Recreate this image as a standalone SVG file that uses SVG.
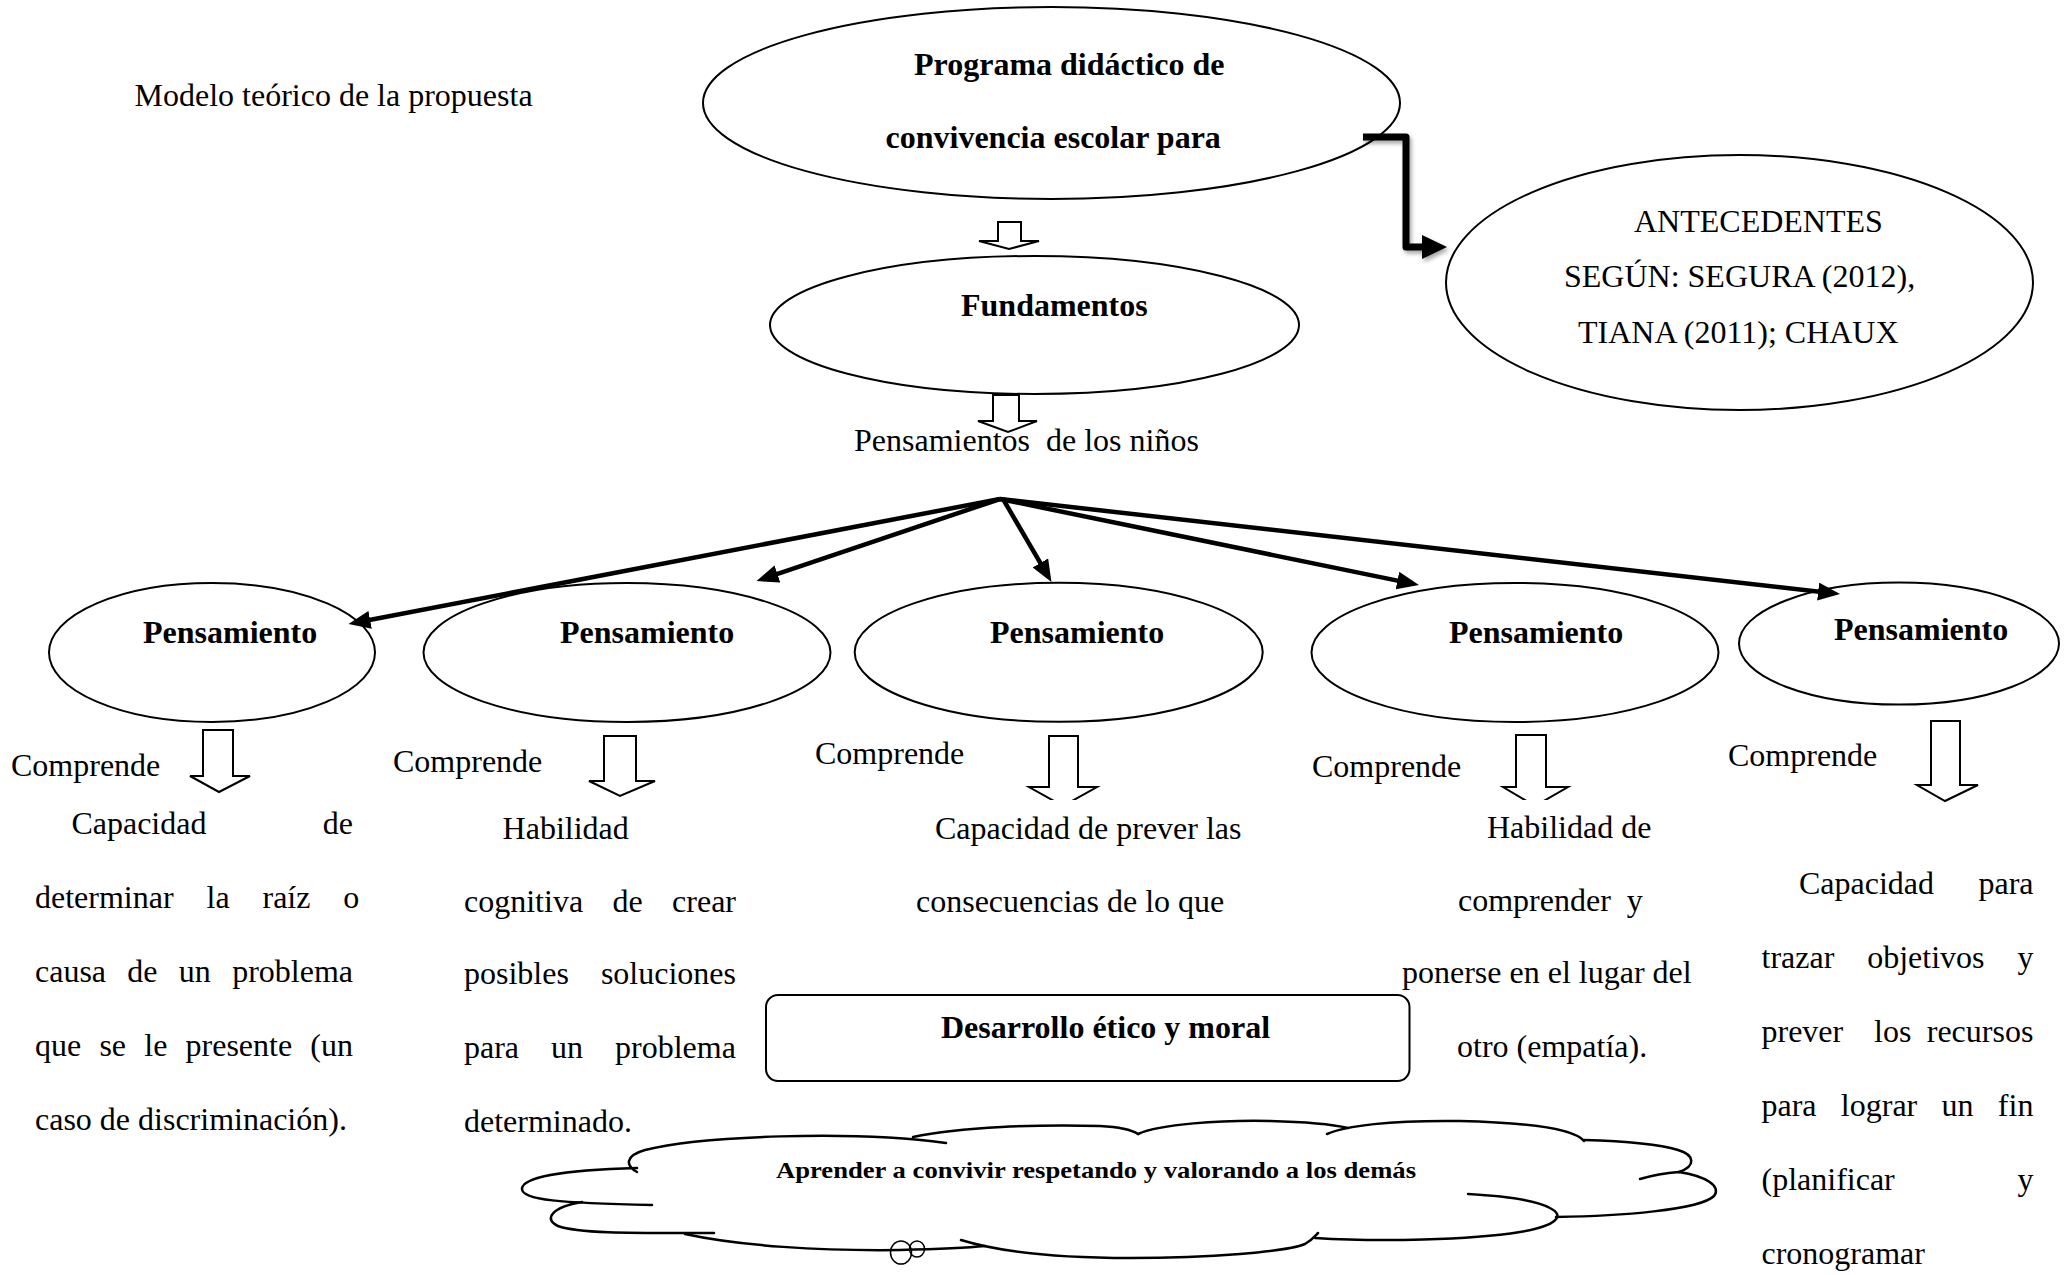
<svg xmlns="http://www.w3.org/2000/svg" width="2071" height="1275" viewBox="0 0 2071 1275">
<style>
.t{font-family:"Liberation Serif","Times New Roman",serif;font-size:32px;fill:#000}
.b{font-weight:bold}
.node{fill:none;stroke:#000;stroke-width:2}
.conn{stroke:#000;stroke-width:4.5;fill:none}
.blk{fill:#fff;stroke:#000;stroke-width:2}
.cl{fill:none;stroke:#000;stroke-width:2.5;stroke-linecap:round}
</style>
<defs>
<marker id="ah" markerUnits="userSpaceOnUse" markerWidth="24" markerHeight="18" refX="10" refY="9" orient="auto">
<path d="M0,0 L22,9 L0,18 z" fill="#000"/>
</marker>
<filter id="sh" x="-20%" y="-20%" width="140%" height="140%">
<feDropShadow dx="2" dy="3" stdDeviation="2" flood-color="#000" flood-opacity="0.35"/>
</filter>
<clipPath id="cut"><rect x="0" y="700" width="2071" height="100"/></clipPath>
</defs>
<rect width="2071" height="1275" fill="#fff"/>

<text class="t" x="134.5" y="106">Modelo teórico de la propuesta</text>

<g id="node-programa">
<ellipse class="node" cx="1051.5" cy="103" rx="348.5" ry="96"/>
<text class="t b" x="914" y="75">Programa didáctico de</text>
<text class="t b" x="885.5" y="148">convivencia escolar para</text>
</g>
<g id="node-antecedentes">
<ellipse class="node" cx="1739.5" cy="282.5" rx="293.5" ry="127.5"/>
<text class="t" x="1634" y="232">ANTECEDENTES</text>
<text class="t" x="1564" y="287">SEGÚN: SEGURA (2012),</text>
<text class="t" x="1578" y="342.5">TIANA (2011); CHAUX</text>
</g>
<g id="node-fundamentos">
<ellipse class="node" cx="1034.5" cy="325" rx="264.5" ry="69"/>
<text class="t b" x="961" y="316">Fundamentos</text>
</g>
<g id="node-pensamientos-ninos">
<text class="t" x="854" y="451" xml:space="preserve">Pensamientos  de los niños</text>
</g>

<g id="node-p1">
<ellipse class="node" cx="212" cy="652.5" rx="163" ry="69.5"/>
<text class="t b" x="143" y="643">Pensamiento</text>
</g>
<g id="node-p2">
<ellipse class="node" cx="627" cy="652.5" rx="203.5" ry="69.5"/>
<text class="t b" x="560" y="643">Pensamiento</text>
</g>
<g id="node-p3">
<ellipse class="node" cx="1058.7" cy="652.3" rx="204" ry="69.5"/>
<text class="t b" x="990" y="643">Pensamiento</text>
</g>
<g id="node-p4">
<ellipse class="node" cx="1515" cy="652.5" rx="203.5" ry="69.5"/>
<text class="t b" x="1449" y="643">Pensamiento</text>
</g>
<g id="node-p5">
<ellipse class="node" cx="1899" cy="643.6" rx="160" ry="61"/>
<text class="t b" x="1834" y="640">Pensamiento</text>
</g>

<g id="labels-comprende">
<text class="t" x="11" y="776">Comprende</text>
<text class="t" x="393" y="772">Comprende</text>
<text class="t" x="815" y="764">Comprende</text>
<text class="t" x="1312" y="777">Comprende</text>
<text class="t" x="1728" y="766">Comprende</text>
</g>

<g id="node-col1">
<text class="t" x="71.4" y="834">Capacidad</text>
<text class="t" x="353" y="834" text-anchor="end">de</text>
<text class="t" x="35" y="908" style="word-spacing:24.9px">determinar la raíz o</text>
<text class="t" x="35" y="982" style="word-spacing:13.3px">causa de un problema</text>
<text class="t" x="35" y="1056" style="word-spacing:10.2px">que se le presente (un</text>
<text class="t" x="35" y="1130">caso de discriminación).</text>
</g>
<g id="node-col2">
<text class="t" x="502.6" y="839">Habilidad</text>
<text class="t" x="464" y="912" style="word-spacing:21.4px">cognitiva de crear</text>
<text class="t" x="464" y="984" style="word-spacing:24px">posibles soluciones</text>
<text class="t" x="464" y="1058" style="word-spacing:24px">para un problema</text>
<text class="t" x="464" y="1132">determinado.</text>
</g>
<g id="node-col3">
<text class="t" x="935" y="839">Capacidad de prever las</text>
<text class="t" x="916" y="912">consecuencias de lo que</text>
</g>
<g id="node-col4">
<text class="t" x="1487" y="838">Habilidad de</text>
<text class="t" x="1458" y="911" xml:space="preserve">comprender  y</text>
<text class="t" x="1402" y="983">ponerse en el lugar del</text>
<text class="t" x="1457" y="1057">otro (empatía).</text>
</g>
<g id="node-col5">
<text class="t" x="1799" y="894">Capacidad</text>
<text class="t" x="2033.5" y="894" text-anchor="end">para</text>
<text class="t" x="1761.5" y="968" style="word-spacing:24.9px">trazar objetivos y</text>
<text class="t" x="1761.5" y="1042" style="word-spacing:7.4px" xml:space="preserve">prever  los recursos</text>
<text class="t" x="1761.5" y="1116" style="word-spacing:16.3px">para lograr un fin</text>
<text class="t" x="1761.5" y="1190">(planificar</text>
<text class="t" x="2033.5" y="1190" text-anchor="end">y</text>
<text class="t" x="1761.5" y="1264">cronogramar</text>
</g>

<g id="node-desarrollo">
<rect class="node" x="766" y="995" width="643.5" height="86" rx="12" ry="12"/>
<text class="t b" x="941" y="1038">Desarrollo ético y moral</text>
</g>

<g id="node-cloud">
<path class="cl" d="M637,1172 C626,1166 624,1156 645,1150 C700,1136 850,1130 946,1143"/>
<path class="cl" d="M637,1168 C560,1170 522,1178 522,1189 C522,1200 560,1203 652,1205"/>
<path class="cl" d="M582,1202 C552,1207 543,1219 558,1226 C580,1234 640,1233 714,1233"/>
<path class="cl" d="M685,1234 C740,1246 820,1251 900,1250 C940,1249 965,1248 985,1246"/>
<path class="cl" d="M961,1240 C1000,1252 1060,1258 1130,1258 C1210,1258 1285,1252 1305,1244 C1312,1240 1315,1236 1318,1233"/>
<path class="cl" d="M1315,1238 C1380,1242 1470,1240 1520,1232 C1556,1226 1566,1216 1550,1208 C1535,1200 1505,1196 1468,1194"/>
<path class="cl" d="M1556,1217 C1620,1216 1700,1210 1714,1196 C1722,1186 1705,1176 1679,1172 C1665,1173 1650,1176 1640,1179"/>
<path class="cl" d="M1679,1172 C1696,1166 1695,1155 1678,1150 C1655,1143 1620,1141 1584,1140"/>
<path class="cl" d="M1584,1141 C1575,1130 1540,1123 1460,1121 C1390,1120 1345,1126 1327,1134"/>
<path class="cl" d="M1138,1134 C1160,1124 1220,1120 1270,1121 C1310,1122 1335,1125 1348,1128"/>
<path class="cl" d="M913,1137 C960,1127 1040,1124 1100,1126 C1120,1127 1132,1130 1138,1134"/>
<ellipse cx="901" cy="1252.5" rx="10.5" ry="11.5" fill="none" stroke="#000" stroke-width="1.5"/>
<ellipse cx="917" cy="1249" rx="7.5" ry="8" fill="none" stroke="#000" stroke-width="1.5"/>
<text class="t b" x="776" y="1178" style="font-size:24px" textLength="640" lengthAdjust="spacingAndGlyphs">Aprender a convivir respetando y valorando a los demás</text>
</g>

<g id="connectors">
<polyline points="1363,137 1406,137 1406,247 1426,247" fill="none" stroke="#000" stroke-width="7" stroke-linejoin="round" filter="url(#sh)"/>
<polygon points="1422,235 1447,247 1422,259" fill="#000" filter="url(#sh)"/>
<polygon class="blk" points="998,222 1021,222 1021,241 1039,241 1009,249 979,241 998,241"/>
<polygon class="blk" points="993,395 1019,395 1019,421 1037,421 1008,432 978,421 993,421"/>
<line class="conn" x1="1000" y1="499" x2="360.3" y2="621.7" marker-end="url(#ah)"/>
<line class="conn" x1="1000" y1="499" x2="767.9" y2="577.2" marker-end="url(#ah)"/>
<line class="conn" x1="1003" y1="499" x2="1045.4" y2="571.6" marker-end="url(#ah)"/>
<line class="conn" x1="1000" y1="499" x2="1407.2" y2="582.6" marker-end="url(#ah)"/>
<line class="conn" x1="1000" y1="499" x2="1828.1" y2="592.7" marker-end="url(#ah)"/>
<polygon class="blk" points="203,730 233,730 233,776 250,776 219,792 190,776 203,776"/>
<polygon class="blk" points="604,736 636,736 636,781 655,781 620,796 589,781 604,781"/>
<polygon class="blk" clip-path="url(#cut)" points="1049,736 1078,736 1078,787 1097,787 1063,806 1029,787 1049,787"/>
<polygon class="blk" clip-path="url(#cut)" points="1516,735 1546,735 1546,787 1568,787 1535,806 1503,787 1516,787"/>
<polygon class="blk" points="1931,721 1960,721 1960,785 1978,785 1945,801 1917,785 1931,785"/>
</g>
</svg>
